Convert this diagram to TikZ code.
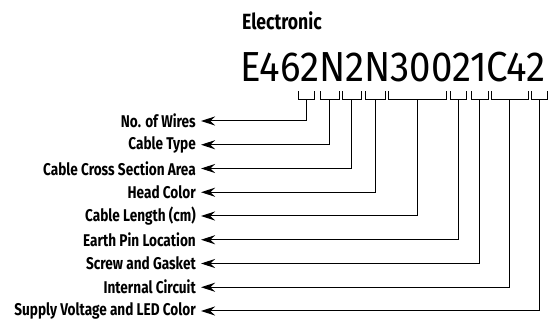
\documentclass[tikz,border=0pt]{standalone}
\usepackage{fontspec}
\newfontfamily\condfont[FakeStretch=0.8]{Fira Sans}
\newfontfamily\codefont{Fira Sans}
\usetikzlibrary{arrows.meta}

\tikzset{
  lbl/.style={anchor=east, inner sep=0pt, font=\condfont\bfseries\fontsize{17}{20}\selectfont},
  brk/.style={line width=1pt, line cap=rect},
  lead/.style={line width=1pt, -{Stealth[length=14pt,width=9pt]}},
}

\begin{document}
\begin{tikzpicture}[x=1pt,y=-1pt]

% ---------- Parameter ----------
\def\ytop{92}   % Oberkante der Klammern
\def\ybot{100}  % Unterkante der Klammern
\def\xtip{201}  % Pfeilspitzen

\useasboundingbox (0,0) rectangle (550,323);

% Titel und Code
\node[anchor=south west, inner sep=0pt, font=\condfont\bfseries\fontsize{22}{26}\selectfont]
  (title) at (242,30) {Electronic};
\node[anchor=south west, inner sep=0pt]
  (code) at (240,82) {\resizebox{305pt}{\height}{\codefont\fontsize{42}{48}\selectfont E462N2N30021C42}};

% ===================
% Klammern und Zuleitungen
% ===================
\foreach \i/\txt/\xa/\xb in {
  1/No. of Wires/298/314,
  2/Cable Type/320/339,
  3/Cable Cross Section Area/342/361,
  4/Head Color/365/385,
  5/Cable Length (cm)/388/446,
  6/Earth Pin Location/450/466,
  7/Screw and Gasket/471/488,
  8/Internal Circuit/491/528,
  9/Supply Voltage and LED Color/531/547}{
  \pgfmathsetmacro\yy{121+(\i-1)*23.75}
  \node[lbl] (lbl\i) at (196,\yy) {\txt};
  \coordinate (b\i) at ({(\xa+\xb)/2},\ybot);
  \coordinate (t\i) at (\xtip,\yy);
  \draw[brk] (\xa,\ytop) |- (\xb,\ybot) -- (\xb,\ytop);
  \draw[lead] (b\i) |- (t\i);
}

\end{tikzpicture}
\end{document}
